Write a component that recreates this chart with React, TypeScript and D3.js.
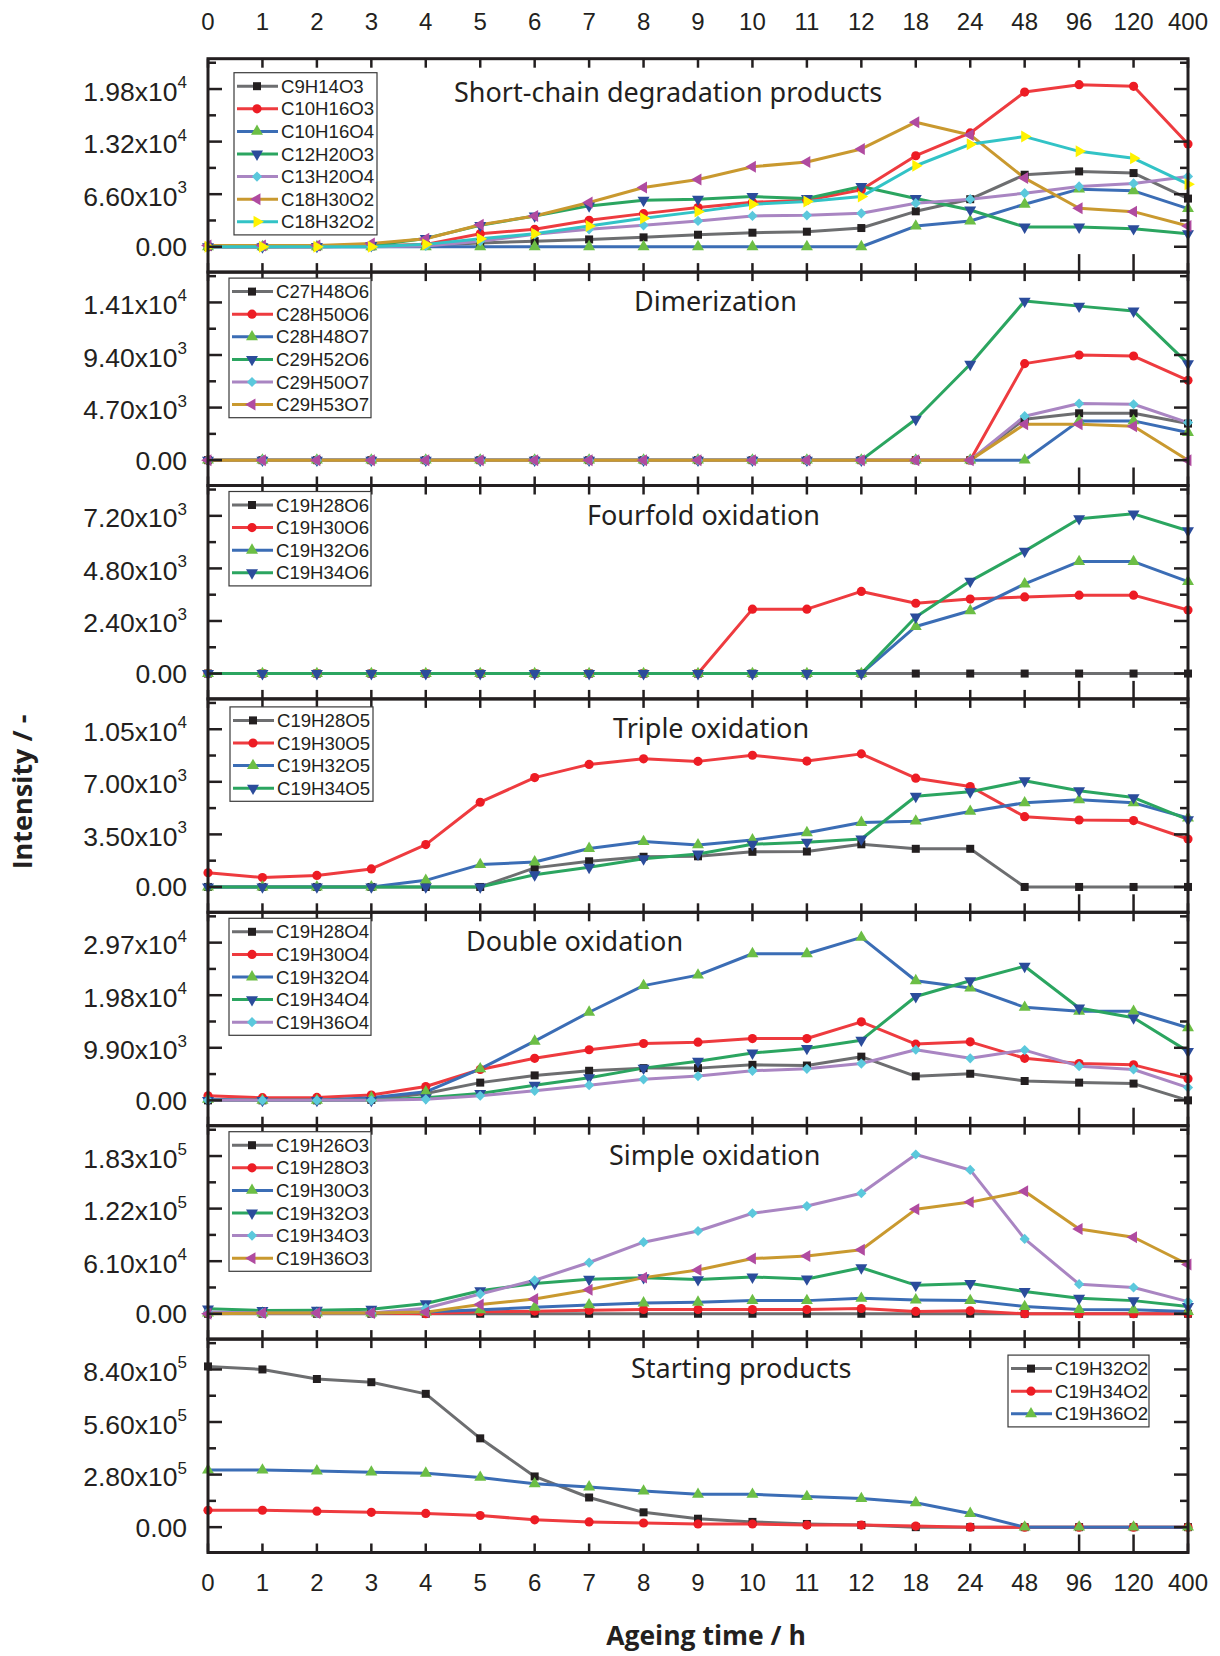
import React from 'react';
import * as d3 from 'd3';

// ---------- DATA ----------
const categories = ['0','1','2','3','4','5','6','7','8','9','10','11','12','18','24','48','96','120','400'];

const panelTitles = [
  'Short-chain degradation products',
  'Dimerization',
  'Fourfold oxidation',
  'Triple oxidation',
  'Double oxidation',
  'Simple oxidation',
  'Starting products',
];
const tickSteps = [6600, 4700, 2400, 3500, 9900, 61000, 280000];

const shortChainNames = ['C9H14O3','C10H16O3','C10H16O4','C12H20O3','C13H20O4','C18H30O2','C18H32O2'];
const shortChainValues = [
  [0,0,0,50,200,480,700,920,1180,1510,1765,1890,2350,4450,5970,9040,9460,9250,6050],
  [0,0,0,100,300,1640,2190,3320,4160,4920,5590,5840,7150,11430,14290,19420,20350,20140,12900],
  [0,0,0,0,0,0,0,0,0,0,0,0,0,2600,3240,5340,7230,7020,4790],
  [0,0,50,150,1050,2690,3870,5130,5840,5970,6300,6050,7570,6050,4620,2480,2480,2270,1640],
  [0,0,0,0,100,700,1560,2190,2690,3240,3870,3950,4200,5470,5970,6730,7570,7950,8830],
  [150,150,150,420,1000,2770,3870,5550,7440,8450,10050,10640,12280,15640,14040,8620,4830,4410,2610],
  [0,0,0,0,300,1000,1640,2610,3570,4410,5340,5680,6300,10170,12860,13830,11980,11100,7860],
];

const dimerNames = ['C27H48O6','C28H50O6','C28H48O7','C29H52O6','C29H50O7','C29H53O7'];
const dimerValues = [
  [0,0,0,0,0,0,0,0,0,0,0,0,0,0,0,3660,4190,4190,3270],
  [0,0,0,0,0,0,0,0,0,0,0,0,0,0,0,8630,9400,9310,7140],
  [0,0,0,0,0,0,0,0,0,0,0,0,0,0,0,0,3510,3510,2470],
  [0,0,0,0,0,0,0,0,0,0,0,0,0,3660,8570,14220,13770,13330,8630],
  [0,0,0,0,0,0,0,0,0,0,0,0,0,0,0,3930,5060,5000,3360],
  [0,0,0,0,0,0,0,0,0,0,0,0,0,0,0,3210,3210,3030,0],
];

const fourfoldNames = ['C19H28O6','C19H30O6','C19H32O6','C19H34O6'];
const fourfoldValues = [
  [0,0,0,0,0,0,0,0,0,0,0,0,0,0,0,0,0,0,0],
  [0,0,0,0,0,0,0,0,0,0,2940,2940,3750,3210,3400,3500,3580,3580,2900],
  [0,0,0,0,0,0,0,0,0,0,0,0,0,2150,2870,4090,5110,5110,4200],
  [0,0,0,0,0,0,0,0,0,0,0,0,0,2580,4220,5590,7070,7290,6520],
];

const tripleNames = ['C19H28O5','C19H30O5','C19H32O5','C19H34O5'];
const tripleValues = [
  [0,0,0,0,0,0,1270,1710,2010,2040,2340,2360,2840,2540,2540,0,0,0,0],
  [940,630,770,1200,2820,5640,7280,8160,8530,8360,8770,8380,8860,7240,6690,4680,4460,4420,3190],
  [0,0,0,0,440,1490,1660,2560,3020,2800,3130,3610,4290,4380,5030,5600,5800,5600,4590],
  [0,0,0,0,0,0,810,1310,1880,2190,2840,2980,3190,6040,6340,7070,6410,5950,4480],
];

const doubleNames = ['C19H28O4','C19H30O4','C19H32O4','C19H34O4','C19H36O4'];
const doubleValues = [
  [0,0,0,100,1300,3340,4700,5570,6070,6070,6690,6560,8230,4520,5010,3650,3340,3160,0],
  [870,500,560,990,2600,5820,7920,9530,10710,10960,11640,11640,14790,10590,11020,7920,6930,6690,4090],
  [190,0,0,500,1610,5940,11140,16590,21600,23580,27610,27610,30700,22530,21170,17520,16770,16770,13680],
  [0,0,0,0,500,1300,2850,4270,6070,7370,8910,9780,11330,19560,22530,25250,17390,15540,9220],
  [0,0,0,0,190,870,1800,2850,3960,4580,5570,5940,6930,9530,7920,9470,6440,5820,2410],
];

const simpleNames = ['C19H26O3','C19H28O3','C19H30O3','C19H32O3','C19H34O3','C19H36O3'];
const simpleValues = [
  [0,0,0,0,0,0,0,0,0,0,0,0,0,0,0,0,0,0,0],
  [760,760,760,760,0,2290,3050,4190,4950,4950,4950,4950,6100,2670,3430,0,0,0,0],
  [760,760,760,760,1900,4570,7620,10290,12570,13330,15240,15240,17910,16000,15240,8380,4950,4570,2670],
  [5710,3810,4190,5330,11810,26670,35050,40000,41910,39620,42670,40390,53340,33150,35050,25910,17910,15240,8380],
  [1900,760,760,760,6480,22860,38860,59440,83060,96010,116600,124970,139830,184780,166870,86860,34290,30480,14100],
  [0,760,760,760,1900,10670,17150,27810,41910,50670,64010,67060,74300,121160,129540,142110,98290,88770,57150],
];

const startingNames = ['C19H32O2','C19H34O2','C19H36O2'];
const startingValues = [
  [856000,840000,789000,772000,710000,473000,270000,158000,79000,45000,28000,17000,11000,0,0,0,0,0,0],
  [90000,90000,85000,79000,73000,62000,39000,28000,22000,17000,17000,11000,11000,5600,0,0,0,0,0],
  [304000,304000,299000,293000,287000,265000,231000,214000,192000,175000,175000,163000,152000,130000,73000,0,0,0,0],
];

// ---------- STYLE ----------
const lineColors = ['#6d6e70','#ee3b3f','#3b6db5','#2ba560','#a985c2','#c9992f','#32c3c6'];
const markerColors = ['#231f20','#ed1c24','#6cbe45','#2b4c9b','#5bc8dc','#b04ba0','#fff200'];
const markerShapes = ['square','circle','up','down','diamond','left','right'];

const W = 1220, H = 1656;
const LEFT = 208, RIGHT = 1188;
const FIRST_TOP = 58.7, PANEL_H = 213.4;

const panelNames = [shortChainNames, dimerNames, fourfoldNames, tripleNames, doubleNames, simpleNames, startingNames];
const panelValues = [shortChainValues, dimerValues, fourfoldValues, tripleValues, doubleValues, simpleValues, startingValues];
const titleX = [454, 634, 587, 613, 466, 609, 631];
const titleDy = [43, 39, 39, 39, 39, 39, 39];
const legendPos = [[234, 14], [229, 6], [229, 6], [230, 8], [229, 6], [229, 6], [1008, 16]];
const legendW = [143, 142, 142, 143, 142, 142, 141];

const x = d3.scalePoint<string>().domain(categories).range([LEFT, RIGHT]);

function Marker({ shape, cx, cy, color }: { shape: string; cx: number; cy: number; color: string }) {
  let d = '';
  let rot = 0;
  if (shape === 'square') d = d3.symbol(d3.symbolSquare, 64)()!;
  else if (shape === 'circle') d = d3.symbol(d3.symbolCircle, 66)()!;
  else if (shape === 'diamond') { d = d3.symbol(d3.symbolSquare, 52)()!; rot = 45; }
  else {
    d = d3.symbol(d3.symbolTriangle, 62)()!;
    rot = shape === 'up' ? 0 : shape === 'down' ? 180 : shape === 'left' ? -90 : 90;
  }
  return <path d={d} transform={`translate(${cx},${cy}) rotate(${rot})`} fill={color} />;
}

function fmt(v: number) {
  if (v === 0) return { m: '0.00', e: '' };
  const e = Math.floor(Math.log10(v) + 1e-9);
  const m = v / Math.pow(10, e);
  return { m: m.toFixed(2) + 'x10', e: String(e) };
}

function Panel({ p }: { p: number }) {
  const top = FIRST_TOP + p * PANEL_H;
  const bottom = top + PANEL_H;
  const T = tickSteps[p];
  const y = d3.scaleLinear().domain([-0.482 * T, 3.577 * T]).range([bottom, top]);
  const names = panelNames[p];
  const values = panelValues[p];
  const line = d3.line<number>().x((_, i) => x(categories[i])!).y((d) => y(d));
  const majors = [0, T, 2 * T, 3 * T];
  const minors = [0.5 * T, 1.5 * T, 2.5 * T, 3.5 * T];
  const [lx, ltop] = legendPos[p];
  const lyTop = top + ltop;
  const rowH = 22.6;
  const lh = names.length * rowH + 4;
  return (
    <g>
      {values.map((vals, s) => (
        <path key={'l' + s} d={line(vals)!} fill="none" stroke={lineColors[s]} strokeWidth={3} strokeLinejoin="round" />
      ))}
      {values.map((vals, s) => (
        <g key={'m' + s}>
          {vals.map((v, i) => (
            <Marker key={i} shape={markerShapes[s]} cx={x(categories[i])!} cy={y(v)} color={markerColors[s]} />
          ))}
        </g>
      ))}
      <rect x={LEFT} y={top} width={RIGHT - LEFT} height={PANEL_H} fill="none" stroke="#231f20" strokeWidth={3} />
      {majors.map((v) => (
        <g key={'M' + v}>
          <line x1={LEFT} x2={LEFT + 14} y1={y(v)} y2={y(v)} stroke="#231f20" strokeWidth={2.5} />
          <line x1={RIGHT} x2={RIGHT - 14} y1={y(v)} y2={y(v)} stroke="#231f20" strokeWidth={2.5} />
        </g>
      ))}
      {minors.map((v) => (
        <g key={'m' + v}>
          <line x1={LEFT} x2={LEFT + 8} y1={y(v)} y2={y(v)} stroke="#231f20" strokeWidth={2.5} />
          <line x1={RIGHT} x2={RIGHT - 8} y1={y(v)} y2={y(v)} stroke="#231f20" strokeWidth={2.5} />
        </g>
      ))}
      {majors.map((v) => {
        const f = fmt(v);
        return (
          <text key={'t' + v} x={187} y={y(v) + (v === 0 ? 9.5 : 11.5)} textAnchor="end" fontFamily="'Liberation Sans', Arial, sans-serif" fontSize={26.5} fill="#231f20">
            {f.m}
            {f.e && <tspan fontSize={17} dy={-12.5}>{f.e}</tspan>}
          </text>
        );
      })}
      {categories.map((c) => {
        const xx = x(c)!;
        const longTick = c === '96' || c === '120';
        return (
          <g key={'x' + c}>
            <line x1={xx} x2={xx} y1={top} y2={top + 9} stroke="#231f20" strokeWidth={2.5} />
            <line x1={xx} x2={xx} y1={bottom} y2={bottom - (longTick ? 18 : 9)} stroke="#231f20" strokeWidth={2.5} />
          </g>
        );
      })}
      <text x={titleX[p]} y={top + titleDy[p]} fontFamily="'Noto Sans', 'Open Sans', sans-serif" fontSize={27} fill="#231f20">
        {panelTitles[p]}
      </text>
      <rect x={lx} y={lyTop} width={legendW[p]} height={lh} fill="#fff" stroke="#3a3a3a" strokeWidth={1.2} />
      {names.map((n, s) => {
        const cy = lyTop + 13.5 + s * rowH;
        return (
          <g key={'lg' + s}>
            <line x1={lx + 3} x2={lx + 44} y1={cy} y2={cy} stroke={lineColors[s]} strokeWidth={3} />
            <Marker shape={markerShapes[s]} cx={lx + 23} cy={cy} color={markerColors[s]} />
            <text x={lx + 47} y={cy + 6.5} fontFamily="'Liberation Sans', Arial, sans-serif" fontSize={18.6} fill="#231f20">{n}</text>
          </g>
        );
      })}
    </g>
  );
}

export default function App() {
  const bottomAxis = FIRST_TOP + 7 * PANEL_H;
  return (
    <svg width={W} height={H} style={{ position: 'absolute', left: 0, top: 0, background: '#fff' }}>
      <rect width={W} height={H} fill="#fff" />
      {panelTitles.map((_, p) => <Panel key={p} p={p} />)}
      {categories.map((c) => (
        <g key={'lab' + c}>
          <text x={x(c)!} y={30} textAnchor="middle" fontFamily="'Liberation Sans', Arial, sans-serif" fontSize={24} fill="#231f20">{c}</text>
          <text x={x(c)!} y={bottomAxis + 38} textAnchor="middle" fontFamily="'Liberation Sans', Arial, sans-serif" fontSize={24} fill="#231f20">{c}</text>
        </g>
      ))}
      <text transform={`translate(32, 792) rotate(-90)`} textAnchor="middle" fontFamily="'Open Sans', 'Noto Sans', sans-serif" fontWeight={700} fontSize={27} fill="#231f20">Intensity / -</text>
      <text x={706} y={1645} textAnchor="middle" fontFamily="'Open Sans', 'Noto Sans', sans-serif" fontWeight={700} fontSize={26.5} fill="#231f20">Ageing time / h</text>
    </svg>
  );
}
